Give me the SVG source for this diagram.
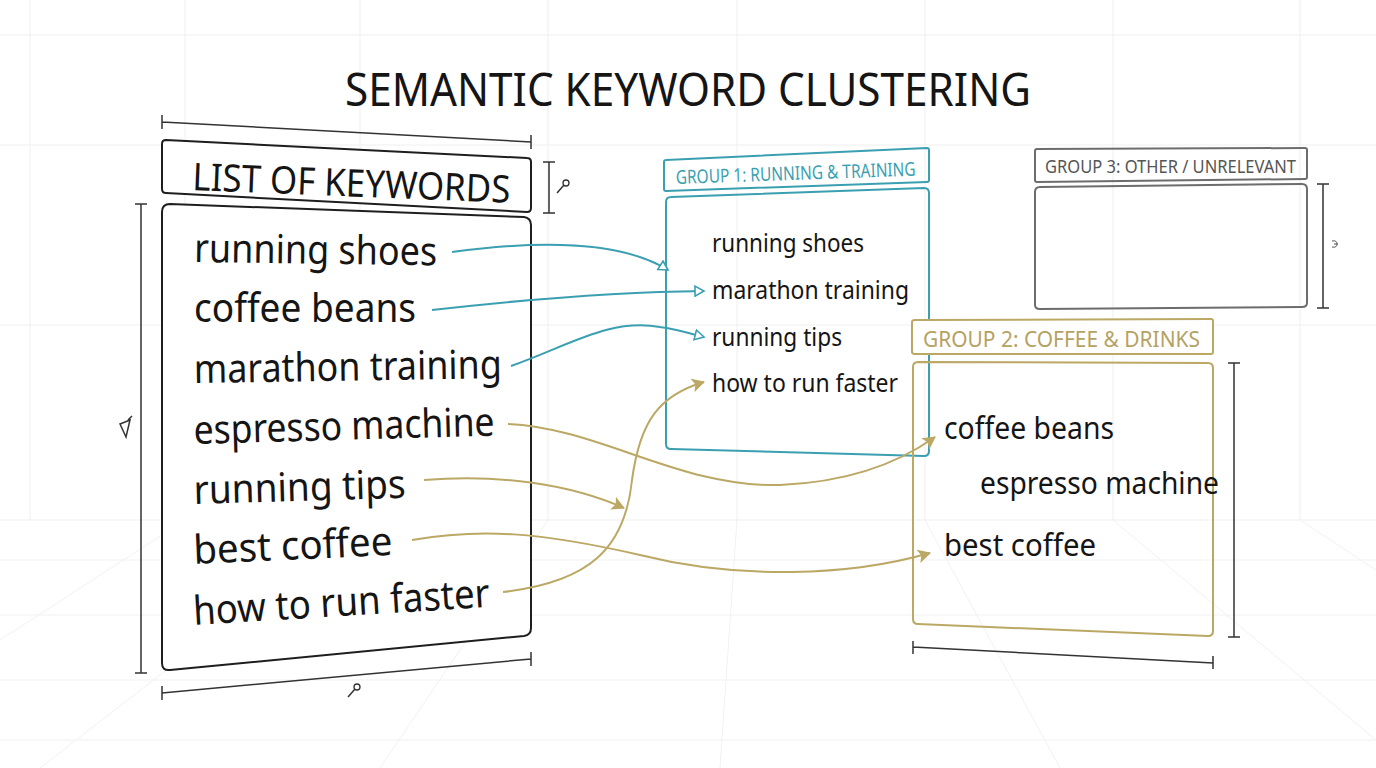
<svg xmlns="http://www.w3.org/2000/svg" width="1376" height="768" viewBox="0 0 1376 768">
<style>
  .t{font-family:"Noto Sans","Open Sans","DejaVu Sans",sans-serif;}
  .kw{fill:#151515;}
  .box{fill:#fff;stroke:#1e1e1e;stroke-width:2;stroke-linejoin:round;}
  .dim{fill:none;stroke:#333;stroke-width:1.5;}
  .teal{fill:none;stroke:#3b9fb2;stroke-width:2;stroke-linejoin:round;}
  .gold{fill:none;stroke:#bba865;stroke-width:2;stroke-linejoin:round;}
  .gray{fill:none;stroke:#6d6d6d;stroke-width:2;stroke-linejoin:round;}
  .grid{stroke:#efefef;stroke-width:1;fill:none;}
  .floor{stroke:#f1f1f1;stroke-width:1;fill:none;}
  .ct{fill:none;stroke:#3b9fb2;stroke-width:2;}
  .cg{fill:none;stroke:#bba865;stroke-width:2;}
</style>
<defs>
  <marker id="aTeal" viewBox="0 0 12 12" refX="10" refY="6" markerWidth="12" markerHeight="12" markerUnits="userSpaceOnUse" orient="auto">
    <path d="M1,1 L10,6 L1,11 Z" fill="#fff" stroke="#3b9fb2" stroke-width="1.6"/>
  </marker>
  <marker id="aGold" viewBox="0 0 14 14" refX="12" refY="7" markerWidth="14" markerHeight="14" markerUnits="userSpaceOnUse" orient="auto">
    <path d="M0,0 L13,7 L0,14 L3,7 Z" fill="#bba865"/>
  </marker>
</defs>
<rect width="1376" height="768" fill="#ffffff"/>
<g id="background">
  <path class="grid" d="M0,35 H1376 M0,145 H1376 M0,325 H1376 M0,520 H1376 M30,0 V520 M185,0 V520 M360,0 V520 M548,0 V520 M737,0 V520 M925,0 V520 M1113,0 V520 M1300,0 V520"/>
  <path class="floor" d="M0,560 H1376 M0,615 H1376 M0,680 H1376 M0,740 H1376 M360,520 L40,768 M548,520 L380,768 M737,520 L720,768 M925,520 L1060,768 M1113,520 L1376,740 M185,520 L0,640 M1300,520 L1376,570"/>
</g>
<g id="title">
  <text class="t" x="345" y="106" font-size="46" fill="#151515" textLength="686" lengthAdjust="spacingAndGlyphs">SEMANTIC KEYWORD CLUSTERING</text>
</g>
<g id="list-header">
  <path class="box" d="M166,140 L527,158 Q531,158 531,162 L531,208 Q531,212 527,212 L166,193 Q162,193 162,189 L162,144 Q162,140 166,140 Z"/>
  <text class="t kw" x="192" y="190" font-size="38" textLength="318" lengthAdjust="spacingAndGlyphs" transform="rotate(2.3 192 190)">LIST OF KEYWORDS</text>
  <path class="dim" d="M162,122 L531,142 M162,115 V129 M531,135 V149"/>
  <path class="dim" d="M549,162 V213 M543,162 H555 M543,213 H555"/>
  <path class="dim" d="M557,193 L564,185"/><circle cx="566" cy="183" r="3" fill="none" stroke="#333" stroke-width="1.3"/>
</g>
<g id="list-box">
  <path class="box" d="M170,204 L524,217 Q531,218 531,225 L531,628 Q531,635 524,636 L170,670 Q162,671 162,663 L162,212 Q162,204 170,204 Z"/>
  <path class="dim" d="M141,204 V673 M135,204 H147 M135,673 H147"/>
  <path class="dim" d="M120,424 L130,420 L126,437 Z M128,420 L132,416"/>
  <path class="dim" d="M162,693 L531,659 M162,686 V700 M531,652 V666"/>
  <path class="dim" d="M348,697 L355,689"/><circle cx="357" cy="687" r="3" fill="none" stroke="#333" stroke-width="1.3"/>
  <text class="t kw" x="194" y="262" font-size="40" textLength="243" lengthAdjust="spacingAndGlyphs" transform="rotate(0.8 194 262)">running shoes</text>
  <text class="t kw" x="194" y="322" font-size="40" textLength="222" lengthAdjust="spacingAndGlyphs">coffee beans</text>
  <text class="t kw" x="194" y="383" font-size="40" textLength="308" lengthAdjust="spacingAndGlyphs" transform="rotate(-0.9 194 383)">marathon training</text>
  <text class="t kw" x="194" y="444" font-size="40" textLength="301" lengthAdjust="spacingAndGlyphs" transform="rotate(-1.6 194 444)">espresso machine</text>
  <text class="t kw" x="194" y="504" font-size="40" textLength="212" lengthAdjust="spacingAndGlyphs" transform="rotate(-1.7 194 504)">running tips</text>
  <text class="t kw" x="194" y="564" font-size="40" textLength="199" lengthAdjust="spacingAndGlyphs" transform="rotate(-2.6 194 564)">best coffee</text>
  <text class="t kw" x="194" y="625" font-size="40" textLength="297" lengthAdjust="spacingAndGlyphs" transform="rotate(-3.5 194 625)">how to run faster</text>
</g>
<g id="group1">
  <path class="teal" d="M666,160 L927,148 Q929,148 929,150 L929,180 Q929,182 927,182 L666,191 Q664,191 664,189 L664,162 Q664,160 666,160 Z"/>
  <text class="t" x="676" y="184" font-size="19" fill="#3b9fb2" textLength="240" lengthAdjust="spacingAndGlyphs" transform="rotate(-2 676 184)">GROUP 1: RUNNING &amp; TRAINING</text>
  <path class="teal" d="M671,197 L924,188 Q929,188 929,193 L929,451 Q929,456 924,456 L671,449 Q666,449 666,444 L666,202 Q666,197 671,197 Z"/>
  <text class="t kw" x="712" y="252" font-size="25" textLength="152" lengthAdjust="spacingAndGlyphs">running shoes</text>
  <text class="t kw" x="712" y="299" font-size="25" textLength="197" lengthAdjust="spacingAndGlyphs">marathon training</text>
  <text class="t kw" x="712" y="346" font-size="25" textLength="130" lengthAdjust="spacingAndGlyphs">running tips</text>
  <text class="t kw" x="712" y="392" font-size="25" textLength="186" lengthAdjust="spacingAndGlyphs">how to run faster</text>
</g>
<g id="group3">
  <path class="gray" d="M1037,149 L1305,148 Q1307,148 1307,150 L1307,177 Q1307,179 1305,179 L1037,182 Q1035,182 1035,180 L1035,151 Q1035,149 1037,149 Z"/>
  <text class="t" x="1045" y="173" font-size="18" fill="#555" textLength="251" lengthAdjust="spacingAndGlyphs">GROUP 3: OTHER / UNRELEVANT</text>
  <path class="gray" d="M1040,187 L1302,184 Q1307,184 1307,189 L1307,303 Q1307,307 1302,307 L1040,309 Q1035,309 1035,305 L1035,192 Q1035,187 1040,187 Z"/>
  <path class="dim" d="M1323,184 V308 M1317,184 H1329 M1317,308 H1329"/>
  <path d="M1332,241 Q1337,240 1337,244 Q1337,248 1332,247 M1334,244 H1338" fill="none" stroke="#555" stroke-width="1"/>
</g>
<g id="group2">
  <path class="gold" fill="#fff" style="fill:#fff" d="M915,320 L1211,319 Q1213,319 1213,321 L1213,352 Q1213,354 1211,354 L915,354 Q912,354 912,352 L912,322 Q912,320 915,320 Z"/>
  <text class="t" x="923" y="347" font-size="22" fill="#b5a262" textLength="277" lengthAdjust="spacingAndGlyphs">GROUP 2: COFFEE &amp; DRINKS</text>
  <path class="gold" d="M918,362 L1208,363 Q1213,363 1213,368 L1213,631 Q1213,636 1208,636 L918,624 Q913,624 913,619 L913,367 Q913,362 918,362 Z"/>
  <text class="t kw" x="944" y="439" font-size="30" textLength="170" lengthAdjust="spacingAndGlyphs">coffee beans</text>
  <text class="t kw" x="980" y="494" font-size="30" textLength="239" lengthAdjust="spacingAndGlyphs">espresso machine</text>
  <text class="t kw" x="944" y="556" font-size="30" textLength="152" lengthAdjust="spacingAndGlyphs">best coffee</text>
  <path class="dim" d="M1234,363 V637 M1228,363 H1240 M1228,637 H1240"/>
  <path class="dim" d="M913,647 L1213,663 M913,641 V654 M1213,656 V669"/>
</g>
<g id="connectors">
  <path class="ct" marker-end="url(#aTeal)" d="M452,252 C540,240 620,240 668,270"/>
  <path class="ct" marker-end="url(#aTeal)" d="M432,310 C520,300 620,292 704,291"/>
  <path class="ct" marker-end="url(#aTeal)" d="M511,366 C570,345 610,318 660,327 C680,330 692,334 704,337"/>
  <path class="cg" marker-end="url(#aGold)" d="M508,424 C600,428 680,488 780,485 C850,482 900,462 935,437"/>
  <path class="cg" marker-end="url(#aGold)" d="M424,480 C500,474 570,484 624,508"/>
  <path class="cg" marker-end="url(#aGold)" d="M412,540 C480,528 540,532 640,555 C740,580 850,576 930,553"/>
  <path class="cg" marker-end="url(#aGold)" d="M503,592 C590,582 625,548 632,480 C640,420 660,395 704,382"/>
</g>
</svg>
